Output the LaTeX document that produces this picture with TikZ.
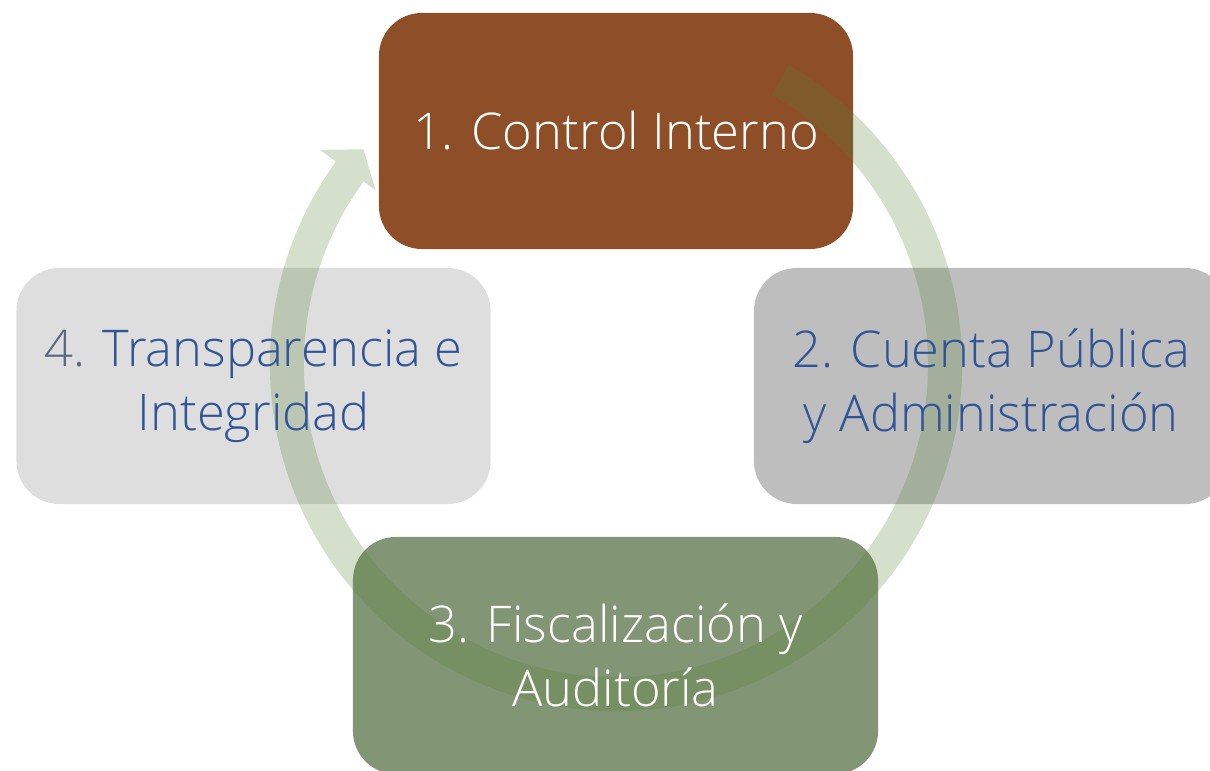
\documentclass[tikz,border=0pt]{standalone}
\usepackage{fontspec}
\setmainfont{Open Sans Light}
\usetikzlibrary{calc}
\definecolor{brownbox}{RGB}{142,79,40}
\definecolor{graybox}{RGB}{190,190,190}
\definecolor{lightbox}{RGB}{222,222,222}
\definecolor{greenbox}{RGB}{130,149,116}
\definecolor{arcgreen}{RGB}{84,130,53}
\definecolor{bluetext}{RGB}{47,85,151}
\definecolor{slatetext}{RGB}{88,104,130}
\tikzset{
  box/.style={rounded corners=1.075cm, minimum width=11.85cm, minimum height=5.9cm, inner sep=0pt},
  lbl/.style={align=center, font=\fontsize{36}{45.5}\selectfont, inner sep=0pt},
  arcfill/.style={fill=arcgreen, fill opacity=0.25}
}
\begin{document}
\begin{tikzpicture}[x=0.025cm,y=0.025cm]
\useasboundingbox (0,0) rectangle (1210,770);
\clip (0,0) rectangle (1210,770);
% boxes
\node[box, fill=brownbox] (b1) at (616,639) {};
\node[box, fill=graybox] (b2) at (991,384) {};
\node[box, fill=lightbox] (b4) at (253.5,384) {};
\node[box, fill=greenbox, minimum width=13.125cm, minimum height=5.925cm] (b3) at (615.5,114.5) {};
% cycle arrow
\coordinate (C) at (616,405);
\fill[arcfill] ($(C)+(60:8.65cm)$) arc[start angle=60, end angle=-216, radius=8.65cm]
  -- ($(C)+(-216:9.15cm)$) -- ($(C)+(-220.5:8.3cm)$) -- ($(C)+(-216:7.425cm)$)
  -- ($(C)+(-216:7.8cm)$) arc[start angle=-216, end angle=60, radius=7.8cm] -- cycle;
% labels
\node[lbl, text=white] (t1) at (b1) {1. Control Interno};
\node[lbl, text=bluetext] (t2) at (b2) {2. Cuenta Pública\\y Administración};
\node[lbl, text=white] (t3) at (b3) {3. Fiscalización y\\Auditoría};
\node[lbl, text=bluetext] (t4) at (b4) {\textcolor{slatetext}{4.} Transparencia e\\Integridad};
\end{tikzpicture}
\end{document}
